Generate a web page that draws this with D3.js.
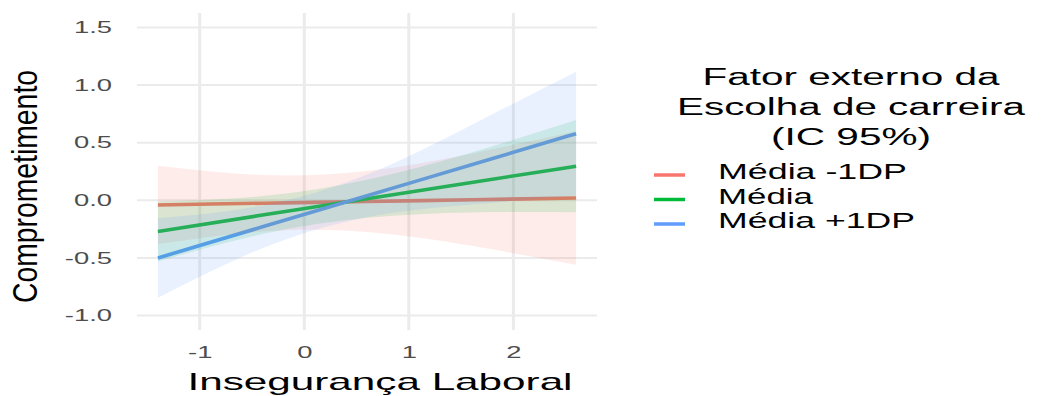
<!DOCTYPE html>
<html>
<head>
<meta charset="utf-8">
<script src="https://cdnjs.cloudflare.com/ajax/libs/d3/7.8.5/d3.min.js"></script>
<style>
  body { margin: 0; background: #fff; }
  svg { display: block; font-family: "Liberation Sans", Arial, sans-serif; }
</style>
</head>
<body>
<div id="chart"></div>
<script>
// values
const xValues = [-1.4, -0.4, 0.6, 1.6, 2.6];
const seriesNames = ["Média -1DP", "Média", "Média +1DP"];
const seriesColors = ["#F8766D", "#00BA38", "#619CFF"];

const fitLow  = [-0.04, -0.025, -0.01, 0.005, 0.02];
const loLow   = [-0.38, -0.27, -0.275, -0.395, -0.56];
const hiLow   = [0.30, 0.22, 0.255, 0.405, 0.60];

const fitMid  = [-0.27, -0.128, 0.013, 0.155, 0.296];
const loMid   = [-0.53, -0.293, -0.152, -0.105, -0.104];
const hiMid   = [-0.01, 0.037, 0.178, 0.415, 0.696];

const fitHigh = [-0.50, -0.23, 0.039, 0.309, 0.578];
const loHigh  = [-0.845, -0.415, -0.146, -0.036, 0.041];
const hiHigh  = [-0.155, -0.045, 0.224, 0.654, 1.115];

const xTicks = [-1, 0, 1, 2];
const yTicks = [-1.0, -0.5, 0.0, 0.5, 1.0, 1.5];

const legendTitle = ["Fator externo da", "Escolha de carreira", "(IC 95%)"];
const xTitle = "Insegurança Laboral";
const yTitle = "Comprometimento";

const fits = [fitLow, fitMid, fitHigh];
const los = [loLow, loMid, loHigh];
const his = [hiLow, hiMid, hiHigh];

const W = 1049, H = 396;
const SX = 1.66; // the picture is stretched sideways

const svg = d3.select("#chart").append("svg")
  .attr("width", W).attr("height", H);
svg.append("rect").attr("width", W).attr("height", H).attr("fill", "#fff");

const x = d3.scaleLinear().domain([-1.6, 2.8]).range([137, 597]);
const y = d3.scaleLinear().domain([-1.125, 1.625]).range([330, 13]);

// stretch a text element sideways by a factor
function stretch(sel, f) {
  sel.each(function() {
    const n = this.getComputedTextLength();
    d3.select(this).attr("textLength", n * f).attr("lengthAdjust", "spacingAndGlyphs");
  });
}

// grid
svg.append("g").selectAll("line").data(yTicks).join("line")
  .attr("x1", 137).attr("x2", 597)
  .attr("y1", d => y(d)).attr("y2", d => y(d))
  .attr("stroke", "#ebebeb").attr("stroke-width", 2);
svg.append("g").selectAll("line").data(xTicks).join("line")
  .attr("y1", 13).attr("y2", 330)
  .attr("x1", d => x(d)).attr("x2", d => x(d))
  .attr("stroke", "#ebebeb").attr("stroke-width", 3);

const rows = seriesNames.map((name, i) => xValues.map((v, j) => ({
  x: v, fit: fits[i][j], lo: los[i][j], hi: his[i][j]
})));

const line = d3.line().x(d => x(d.x)).y(d => y(d.fit)).curve(d3.curveNatural);
const area = d3.area().x(d => x(d.x)).y0(d => y(d.lo)).y1(d => y(d.hi)).curve(d3.curveNatural);

// lines first, bands drawn over them
svg.append("g").selectAll("path").data(rows).join("path")
  .attr("d", line)
  .attr("fill", "none")
  .attr("stroke", (d, i) => seriesColors[i])
  .attr("stroke-width", 3.6);

svg.append("g").selectAll("path").data(rows).join("path")
  .attr("d", area)
  .attr("fill", (d, i) => seriesColors[i])
  .attr("fill-opacity", 0.14);

// axes
const yAxis = svg.append("g").attr("transform", "translate(112,0)")
  .call(d3.axisLeft(y).tickValues(yTicks).tickFormat(d3.format(".1f")).tickSize(0).tickPadding(0));
const xAxis = svg.append("g").attr("transform", "translate(0,346)")
  .call(d3.axisBottom(x).tickValues(xTicks).tickFormat(d3.format("d")).tickSize(0).tickPadding(0));
yAxis.selectAll("text").text(d => d3.format(".1f")(d).replace("−", "-"));
xAxis.selectAll("text").text(d => d < 0 ? "-" + Math.abs(d) : d);
[xAxis, yAxis].forEach(a => {
  a.select(".domain").remove();
  a.selectAll("text").attr("font-size", 16.5).attr("fill", "#4d4d4d")
    .attr("font-family", "Liberation Sans, Arial, sans-serif");
  stretch(a.selectAll("text"), SX);
});

// axis titles
svg.append("text")
  .attr("x", 380).attr("y", 390)
  .attr("text-anchor", "middle")
  .attr("font-size", 24).attr("fill", "#000")
  .attr("textLength", 385).attr("lengthAdjust", "spacingAndGlyphs")
  .text(xTitle);

svg.append("text")
  .attr("transform", "translate(37,186.5) scale(1.75,1) rotate(-90)")
  .attr("text-anchor", "middle")
  .attr("font-size", 20.5).attr("fill", "#000")
  .attr("textLength", 233).attr("lengthAdjust", "spacingAndGlyphs")
  .text(yTitle);

// legend
const titleWidths = [297, 348, 160];
svg.append("g").selectAll("text").data(legendTitle).join("text")
  .attr("x", 851).attr("y", (d, i) => 85 + i * 30)
  .attr("text-anchor", "middle")
  .attr("font-size", 23.5).attr("fill", "#000")
  .attr("textLength", (d, i) => titleWidths[i]).attr("lengthAdjust", "spacingAndGlyphs")
  .text(d => d);

const labelWidths = [189, 95, 197];
const leg = svg.append("g").selectAll("g").data(seriesNames).join("g")
  .attr("transform", (d, i) => `translate(0,${175 + i * 24.5})`);
leg.append("line")
  .attr("x1", 654).attr("x2", 685)
  .attr("stroke", (d, i) => seriesColors[i]).attr("stroke-width", 3.5);
leg.append("text")
  .attr("x", 718).attr("y", 4)
  .attr("font-size", 22).attr("fill", "#000")
  .attr("textLength", (d, i) => labelWidths[i]).attr("lengthAdjust", "spacingAndGlyphs")
  .text(d => d);
</script>
</body>
</html>
